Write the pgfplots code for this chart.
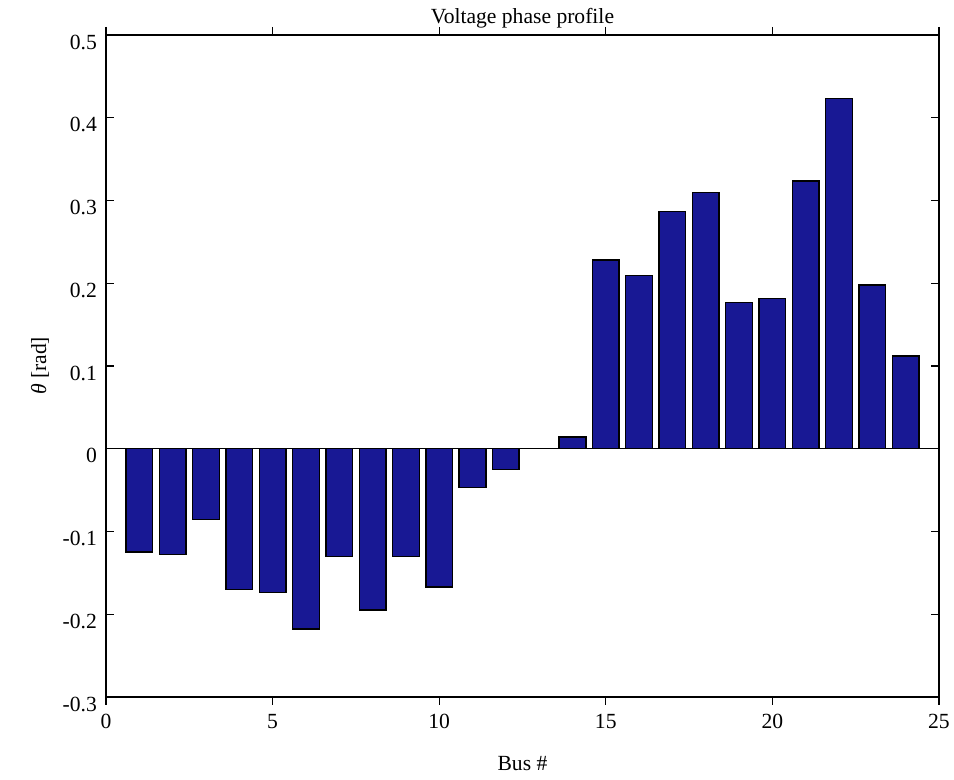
\documentclass[border=0pt]{standalone}
\usepackage{fontspec}
\setmainfont{Liberation Serif}
\usepackage{pgfplots}
\pgfplotsset{compat=1.18}
\definecolor{barblue}{RGB}{24,24,148}
\begin{document}
\begin{tikzpicture}
\useasboundingbox (-53pt,-41.5pt) rectangle (424pt,348.5pt);
\begin{axis}[
  scale only axis,
  width=416.5pt, height=331pt,
  xmin=0, xmax=25, ymin=-0.3, ymax=0.5,
  xtick={0,5,10,15,20,25},
  ytick={-0.3,-0.2,-0.1,0,0.1,0.2,0.3,0.4,0.5},
  yticklabels={-0.3,-0.2,-0.1,0,0.1,0.2,0.3,0.4,0.5},
  tick align=inside,
  major tick length=4pt,
  tick style={black, line width=0.6pt},
  axis line style={black, line width=0.8pt},
  /pgf/number format/assume math mode=true,
  tick label style={font=\fontsize{10.8}{12}\selectfont},
  xticklabel style={yshift=-1pt},
  yticklabel style={yshift=-3.5pt, xshift=-1pt},
  title={Voltage phase profile},
  title style={font=\fontsize{10.8}{12}\selectfont, yshift=-6pt},
  xlabel={Bus \#},
  xlabel style={font=\fontsize{10.8}{12}\selectfont, yshift=-7pt},
  ylabel={\textit{θ} [rad]},
  ylabel style={font=\fontsize{10.8}{12}\selectfont, yshift=0pt},
  ybar, bar width=0.8, bar shift=0pt,
]
\addplot[fill=barblue, draw=black, line width=0.7pt] coordinates {
(1,-0.125) (2,-0.128) (3,-0.0855) (4,-0.170) (5,-0.174) (6,-0.218)
(7,-0.130) (8,-0.195) (9,-0.130) (10,-0.167) (11,-0.0466) (12,-0.0253)
(14,0.014) (15,0.228) (16,0.2096) (17,0.2866) (18,0.3096) (19,0.177)
(20,0.1817) (21,0.3236) (22,0.4236) (23,0.198) (24,0.112)
};
\addplot[sharp plot, black, line width=0.7pt, forget plot] coordinates {(0,0) (25,0)};
\end{axis}
\end{tikzpicture}
\end{document}
